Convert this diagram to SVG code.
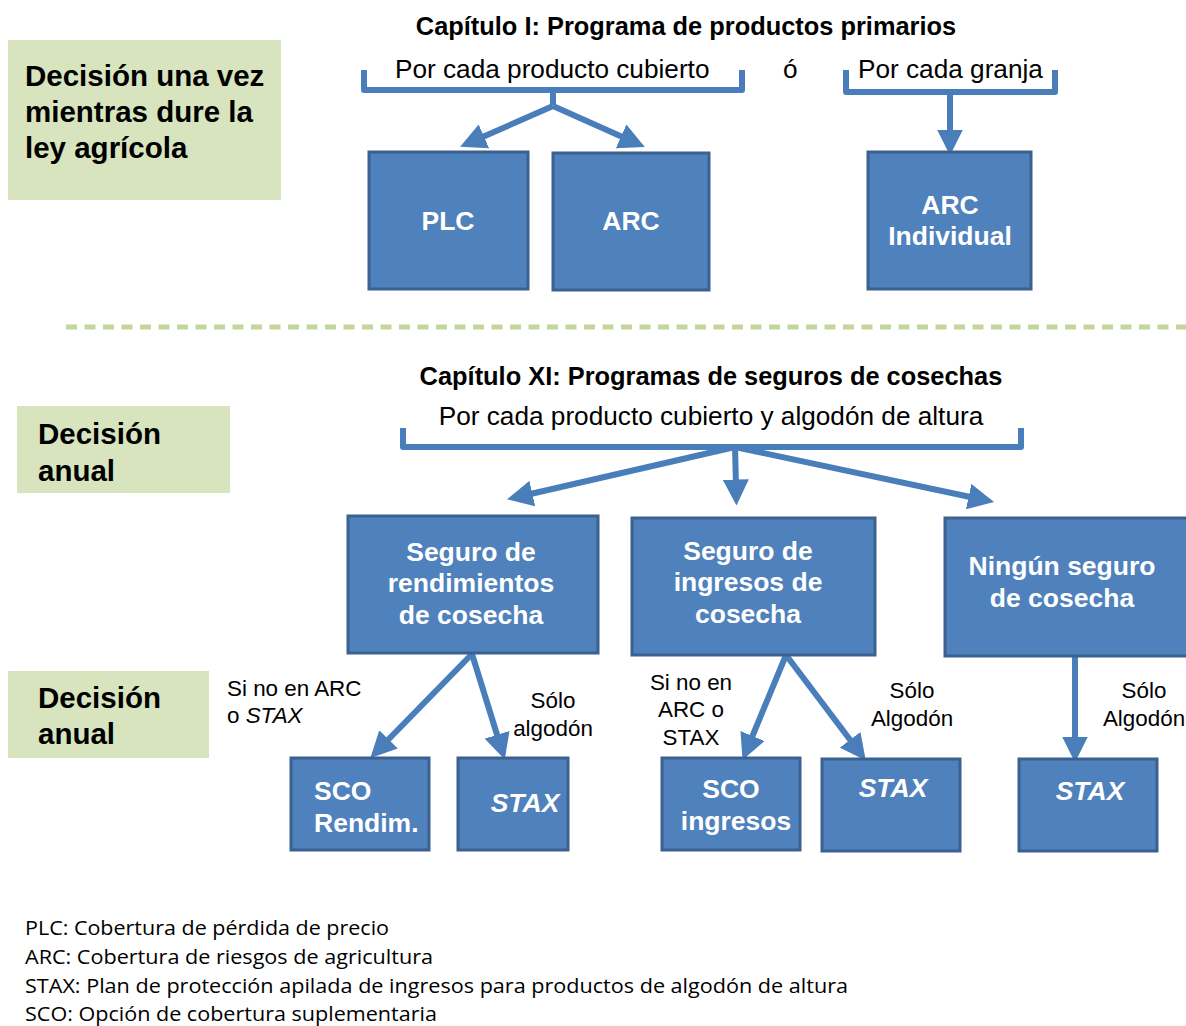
<svg xmlns="http://www.w3.org/2000/svg" width="1186" height="1026" viewBox="0 0 1186 1026">
<style>
.green{fill:#d7e4bd}
.gt{font-family:"Liberation Sans",Arial,sans-serif;font-weight:bold;font-size:29.5px;fill:#000}
.title{font-family:"Liberation Sans",Arial,sans-serif;font-weight:bold;font-size:25.4px;fill:#000;text-anchor:middle}
.sub{font-family:"Liberation Sans",Arial,sans-serif;font-size:26.2px;fill:#000}
.box{fill:#4f81bd;stroke:#3a6190;stroke-width:3}
.bt{font-family:"Liberation Sans",Arial,sans-serif;font-weight:bold;font-size:26.5px;fill:#fff}
.m{text-anchor:middle}
.it{font-style:italic}
.lbl{font-family:"Liberation Sans",Arial,sans-serif;font-size:22.4px;fill:#000}
.c{text-anchor:middle}
.leg{font-family:"Open Sans","Noto Sans",sans-serif;font-size:20px;fill:#000}
.br{fill:none;stroke:#4a7ebb;stroke-width:6;stroke-linejoin:round}
.ar{fill:none;stroke:#4a7ebb;stroke-width:6;marker-end:url(#ah)}
</style>
<defs>
<marker id="ah" markerUnits="userSpaceOnUse" markerWidth="26" markerHeight="26" viewBox="0 0 24 24" refX="6" refY="12" orient="auto">
<path d="M0,0 L24,12 L0,24 Z" fill="#4a7ebb"/>
</marker>
</defs>
<rect width="1186" height="1026" fill="#fff"/>

<g id="note-top">
<rect class="green" x="8" y="40" width="273" height="160"/>
<text class="gt" x="25" y="86">Decisión una vez</text>
<text class="gt" x="25" y="122">mientras dure la</text>
<text class="gt" x="25" y="158">ley agrícola</text>
</g>
<g id="note-mid">
<rect class="green" x="17" y="406" width="213" height="87"/>
<text class="gt" x="38" y="444">Decisión</text>
<text class="gt" x="38" y="481">anual</text>
</g>
<g id="note-bot">
<rect class="green" x="8" y="671" width="201" height="87"/>
<text class="gt" x="38" y="708">Decisión</text>
<text class="gt" x="38" y="744">anual</text>
</g>

<g id="headers">
<text class="title" x="686" y="35">Capítulo I: Programa de productos primarios</text>
<text class="sub" x="395" y="78">Por cada producto cubierto</text>
<text class="sub" x="783" y="78">ó</text>
<text class="sub" x="858" y="78">Por cada granja</text>
<text class="title" x="711" y="385">Capítulo XI: Programas de seguros de cosechas</text>
<text class="sub c" x="711" y="425">Por cada producto cubierto y algodón de altura</text>
</g>

<line x1="66" y1="327" x2="1186" y2="327" stroke="#c3d69b" stroke-width="5" stroke-dasharray="11 7.5"/>

<g id="connectors">
<path class="br" d="M364,70 V90 H742 V70"/>
<path class="br" d="M553,90 V105"/>
<path class="ar" d="M553,106 L478,139"/>
<path class="ar" d="M553,106 L627,139"/>
<path class="br" d="M846,70 V92 H1055 V70"/>
<path class="ar" d="M950,92 V136"/>
<path class="br" d="M403,428 V447 H1021 V428"/>
<path class="ar" d="M735,447 L526,495"/>
<path class="ar" d="M735,447 L736,486"/>
<path class="ar" d="M735,447 L975,498"/>
<path class="ar" d="M472,654 L384,744"/>
<path class="ar" d="M472,654 L499,741"/>
<path class="ar" d="M786,655 L750,742"/>
<path class="ar" d="M786,655 L854,745"/>
<path class="ar" d="M1075,656 V743"/>
</g>

<g id="plc"><rect class="box" x="369" y="152" width="159" height="137"/><text class="bt m" x="448" y="230">PLC</text></g>
<g id="arc"><rect class="box" x="553" y="153" width="156" height="137"/><text class="bt m" x="631" y="230">ARC</text></g>
<g id="arc-ind"><rect class="box" x="868" y="152" width="163" height="137"/><text class="bt m" x="950" y="214">ARC</text><text class="bt m" x="950" y="245">Individual</text></g>

<g id="seg-rend"><rect class="box" x="348" y="516" width="250" height="137"/>
<text class="bt m" x="471" y="561">Seguro de</text><text class="bt m" x="471" y="592">rendimientos</text><text class="bt m" x="471" y="624">de cosecha</text></g>
<g id="seg-ing"><rect class="box" x="632" y="518" width="243" height="137"/>
<text class="bt m" x="748" y="560">Seguro de</text><text class="bt m" x="748" y="591">ingresos de</text><text class="bt m" x="748" y="623">cosecha</text></g>
<g id="ningun"><rect class="box" x="945" y="518" width="243" height="138"/>
<text class="bt m" x="1062" y="575">Ningún seguro</text><text class="bt m" x="1062" y="607">de cosecha</text></g>

<g id="sco-rend"><rect class="box" x="291" y="758" width="138" height="92"/>
<text class="bt" x="314" y="800">SCO</text><text class="bt" x="314" y="832">Rendim.</text></g>
<g id="stax1"><rect class="box" x="458" y="758" width="110" height="92"/><text class="bt m it" x="525" y="812">STAX</text></g>
<g id="sco-ing"><rect class="box" x="662" y="758" width="138" height="92"/>
<text class="bt m" x="731" y="798">SCO</text><text class="bt m" x="736" y="830">ingresos</text></g>
<g id="stax2"><rect class="box" x="822" y="759" width="138" height="92"/><text class="bt m it" x="893" y="797">STAX</text></g>
<g id="stax3"><rect class="box" x="1019" y="759" width="138" height="92"/><text class="bt m it" x="1090" y="800">STAX</text></g>

<g id="labels">
<text class="lbl" x="227" y="696">Si no en ARC</text>
<text class="lbl" x="227" y="723">o <tspan class="it">STAX</tspan></text>
<text class="lbl c" x="553" y="708">Sólo</text>
<text class="lbl c" x="553" y="736">algodón</text>
<text class="lbl c" x="691" y="690">Si no en</text>
<text class="lbl c" x="691" y="717">ARC o</text>
<text class="lbl c" x="691" y="745">STAX</text>
<text class="lbl c" x="912" y="698">Sólo</text>
<text class="lbl c" x="912" y="726">Algodón</text>
<text class="lbl c" x="1144" y="698">Sólo</text>
<text class="lbl c" x="1144" y="726">Algodón</text>
</g>

<g id="legend">
<text class="leg" x="25" y="935" textLength="364" lengthAdjust="spacingAndGlyphs">PLC: Cobertura de pérdida de precio</text>
<text class="leg" x="25" y="964" textLength="408" lengthAdjust="spacingAndGlyphs">ARC: Cobertura de riesgos de agricultura</text>
<text class="leg" x="25" y="993" textLength="823" lengthAdjust="spacingAndGlyphs">STAX: Plan de protección apilada de ingresos para productos de algodón de altura</text>
<text class="leg" x="25" y="1021" textLength="412" lengthAdjust="spacingAndGlyphs">SCO: Opción de cobertura suplementaria</text>
</g>
</svg>
